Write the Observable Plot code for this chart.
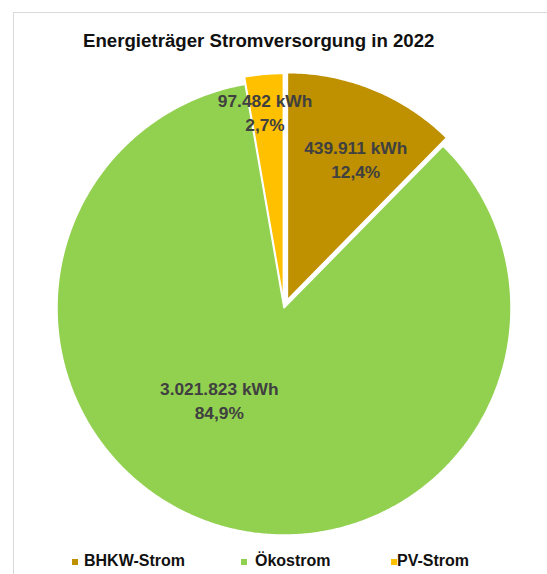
<!DOCTYPE html>
<html>
<head>
<meta charset="utf-8">
<script src="https://cdn.jsdelivr.net/npm/d3@7"></script>
<script src="https://cdn.jsdelivr.net/npm/@observablehq/plot@0.6"></script>
<style>
html, body { margin: 0; padding: 0; background: #fff; overflow: hidden; }
#wrap { position: relative; width: 547px; height: 574px; overflow: hidden; font-family: "Liberation Sans", Arial, sans-serif; }
#frame { position: absolute; left: 13px; top: 12px; width: 700px; height: 700px; border: 1px solid #d9d9d9; box-sizing: border-box; }
#chart { position: absolute; left: 0; top: 0; }
#title { position: absolute; left: 83px; top: 31px; font-size: 18.67px; line-height: 20px; font-weight: bold; color: #111; white-space: nowrap; }
.lg-sq { position: absolute; width: 6px; height: 6px; }
.lg-tx { position: absolute; font-size: 16px; line-height: 18px; font-weight: bold; color: #111; white-space: nowrap; }
</style>
</head>
<body>
<div id="wrap">
  <div id="frame"></div>
  <div id="chart"></div>
  <div id="title">Energieträger Stromversorgung in 2022</div>
  <div id="legend"></div>
</div>
<script>
// ---- data ----
const categories = ["BHKW-Strom", "Ökostrom", "PV-Strom"];
const valuesKWh = [439911, 3021823, 97482];
const colors = ["#BF9000", "#92D050", "#FFC000"];

// ---- layout / style (not data) ----
const CX = 283.5, CY = 307.5, R = 227;           // pie centre & radius in px
const explodePx = [9, 0, 7.5];                    // slice explosion in px
const labelFrac = [0.69, 0.47, 0.837];            // label distance along bisector
const labelNudge = [[9, 4], [-33, -10.5], [-2, 0]]; // px nudges (dx, dy)
const legendSquareX = [72, 241, 391];
const legendTextX = [84, 255, 397];

const de = d3.formatLocale({decimal: ",", thousands: ".", grouping: [3], currency: ["", " €"]});
const fmtInt = de.format(",d");
const fmtPct = de.format(".1%");

const total = d3.sum(valuesKWh);
const arcs = d3.pie().sort(null).value(d => d)(valuesKWh);

const slicePts = [];
const labels = [];
arcs.forEach((a, i) => {
  const mid = (a.startAngle + a.endAngle) / 2;
  const off = explodePx[i] / R;
  const ax = off * Math.sin(mid), ay = off * Math.cos(mid);
  slicePts.push({cat: categories[i], x: ax, y: ay});
  const n = Math.max(2, Math.ceil((a.endAngle - a.startAngle) / (Math.PI / 360)));
  for (let k = 0; k <= n; k++) {
    const t = a.startAngle + (a.endAngle - a.startAngle) * k / n;
    slicePts.push({cat: categories[i], x: ax + Math.sin(t), y: ay + Math.cos(t)});
  }
  labels.push({
    cat: categories[i],
    x: ax + labelFrac[i] * Math.sin(mid) + labelNudge[i][0] / R,
    y: ay + labelFrac[i] * Math.cos(mid) - labelNudge[i][1] / R,
    text: fmtInt(valuesKWh[i]) + " kWh\n" + fmtPct(valuesKWh[i] / total)
  });
});

const plot = Plot.plot({
  width: 547,
  height: 574,
  margin: 0,
  style: {background: "transparent", overflow: "visible"},
  x: {domain: [-1, 1], range: [CX - R, CX + R], axis: null},
  y: {domain: [-1, 1], range: [CY + R, CY - R], axis: null},
  color: {domain: categories, range: colors},
  marks: [
    Plot.line(slicePts, {x: "x", y: "y", z: "cat", fill: "cat", stroke: "white", strokeWidth: 1.5, curve: "linear-closed", strokeLinejoin: "miter"}),
    Plot.text(labels, {x: "x", y: "y", text: "text", fill: "#404040", fontSize: 17.33, fontWeight: "bold", fontFamily: "Liberation Sans, Arial, sans-serif", lineHeight: 1.385})
  ]
});
document.getElementById("chart").appendChild(plot);

// legend
const lg = document.getElementById("legend");
categories.forEach((c, i) => {
  const sq = document.createElement("div");
  sq.className = "lg-sq";
  sq.style.left = legendSquareX[i] + "px";
  sq.style.top = "559px";
  sq.style.background = colors[i];
  lg.appendChild(sq);
  const tx = document.createElement("div");
  tx.className = "lg-tx";
  tx.style.left = legendTextX[i] + "px";
  tx.style.top = "551.5px";
  tx.textContent = c;
  lg.appendChild(tx);
});
</script>
</body>
</html>
